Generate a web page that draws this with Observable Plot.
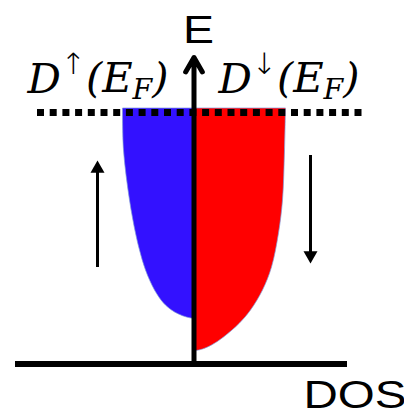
<!DOCTYPE html>
<html><head><meta charset="utf-8">
<script src="https://cdn.jsdelivr.net/npm/d3@7"></script>
<script src="https://cdn.jsdelivr.net/npm/@observablehq/plot@0.6"></script>
<style>html,body{margin:0;padding:0;background:#fff} svg{display:block}</style>
</head><body><div id="chart"></div>
<script>
// ---- data (energy in arbitrary units, baseline E = 0) ----
const spinUpEnergy   = [0.45, 0.465, 0.495, 0.535, 0.605, 0.735, 0.935, 1.135, 1.305, 1.635, 2.135, 2.555];
const spinUpDOS      = [0.00, 0.07, 0.15, 0.22, 0.30, 0.39, 0.48, 0.54, 0.58, 0.64, 0.70, 0.71];
const spinDownEnergy = [0.125, 0.145, 0.185, 0.265, 0.405, 0.535, 0.735, 0.965, 1.305, 1.635, 2.135, 2.555];
const spinDownDOS    = [0.00, 0.09, 0.18, 0.30, 0.46, 0.57, 0.69, 0.78, 0.85, 0.89, 0.91, 0.92];
const fermiEnergy = 2.515;
const energyAxisTop = 3.065;
const spinArrowX    = [-0.965, 1.165];
const spinArrowFrom = [0.965, 2.085];
const spinArrowTo   = [2.035, 1.005];
const labelTexts = ["E", "DOS"];

const up = spinUpEnergy.map((e, i) => ({E: e, dos: -spinUpDOS[i]}));
const down = spinDownEnergy.map((e, i) => ({E: e, dos: spinDownDOS[i]}));
const arrows = spinArrowX.map((x, i) => {
  const dir = Math.sign(spinArrowTo[i] - spinArrowFrom[i]);
  return {x, from: spinArrowFrom[i], to: spinArrowTo[i], dir,
          lineEnd: spinArrowTo[i] - dir * 0.10, head: spinArrowTo[i] - dir * 0.081};
});

const plot = Plot.plot({
  width: 404, height: 419,
  margin: 0,
  x: {domain: [-1.935, 2.105], axis: null},
  y: {domain: [-0.555, 3.635], axis: null},
  style: {background: "#fff"},
  marks: [
    Plot.areaX(up, {y: "E", x1: 0, x2: "dos", fill: "#3311ff", stroke: "#7f9ad8", strokeWidth: 0.7, curve: "catmull-rom"}),
    Plot.areaX(down, {y: "E", x1: 0, x2: "dos", fill: "#ff0000", stroke: "#7f9ad8", strokeWidth: 0.7, curve: "catmull-rom"}),
    Plot.ruleY([fermiEnergy], {x1: -1.565, x2: 1.695, stroke: "#000", strokeWidth: 7, strokeDasharray: "7,5.7"}),
    Plot.ruleY([0], {x1: -1.785, x2: 1.535, stroke: "#000", strokeWidth: 6}),
    Plot.arrow([0], {x1: 0, x2: 0, y1: 0, y2: energyAxisTop, stroke: "#000", strokeWidth: 5, headLength: 5, headAngle: 60}),
    Plot.ruleX(arrows, {x: "x", y1: "from", y2: "lineEnd", stroke: "#000", strokeWidth: 3}),
    Plot.dot(arrows, {x: "x", y: "head", symbol: "triangle", r: 5.2, fill: "#000", stroke: null, rotate: d => d.dir > 0 ? 0 : 180}),
    Plot.text([labelTexts[0]], {x: 0.045, y: 3.215, text: d => d, textAnchor: "middle", lineAnchor: "bottom", fontSize: 38, fontFamily: "Liberation Sans, Arial, sans-serif", fill: "#000"}),
    Plot.text([labelTexts[1]], {x: 1.095, y: -0.435, text: d => d, textAnchor: "start", lineAnchor: "bottom", fontSize: 38, fontFamily: "Liberation Sans, Arial, sans-serif", fill: "#000"}),
    Plot.text(["up"], {x: -1.665, y: 2.715, text: d => d, textAnchor: "start", lineAnchor: "bottom", fontSize: 41, fontFamily: "DejaVu Serif, serif", fontStyle: "italic", fill: "#000"}),
    Plot.text(["down"], {x: 0.245, y: 2.715, text: d => d, textAnchor: "start", lineAnchor: "bottom", fontSize: 41, fontFamily: "DejaVu Serif, serif", fontStyle: "italic", fill: "#000"})
  ]
});
document.getElementById("chart").append(plot);

// rich-text labels D^↑(E_F), D^↓(E_F)
const svg = d3.select(plot);
svg.selectAll("text").each(function() {
  const t = d3.select(this);
  const s = this.textContent;
  if (s === "up" || s === "down") {
    t.text(null);
    t.append("tspan").text("D");
    t.append("tspan").attr("font-size", "0.72em").attr("dy", "-0.62em").attr("font-style", "normal").attr("font-family", "DejaVu Sans, sans-serif").attr("font-weight", "300").text(s === "up" ? "↑" : "↓");
    t.append("tspan").attr("dy", "0.446em").text("(E");
    t.append("tspan").attr("font-size", "0.68em").attr("dy", "0.22em").text("F");
    t.append("tspan").attr("dy", "-0.15em").text(")");
    t.attr("textLength", 141).attr("lengthAdjust", "spacingAndGlyphs");
  } else if (s === "E") {
    t.attr("textLength", 31).attr("lengthAdjust", "spacingAndGlyphs");
  } else if (s === "DOS") {
    t.attr("textLength", 103).attr("lengthAdjust", "spacingAndGlyphs");
  }
});
</script></body></html>
